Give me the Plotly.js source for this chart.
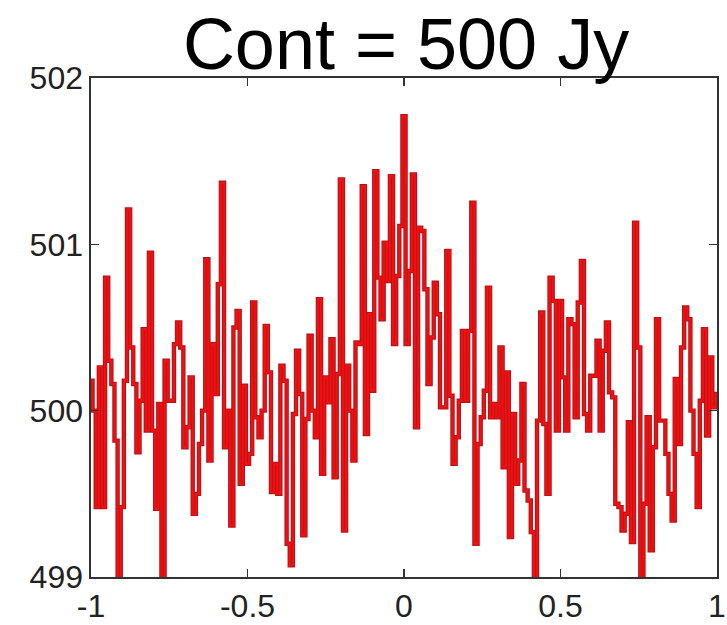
<!DOCTYPE html>
<html>
<head>
<meta charset="utf-8">
<script src="https://cdn.plot.ly/plotly-3.0.1.min.js"></script>
<style>html,body{margin:0;padding:0;background:#fff;}#chart{width:727px;height:625px;}</style>
</head>
<body>
<div id="chart"></div>
<script>
// Spectrum channels: velocity axis from -1 to 1 in steps of 0.01
var channelStart = -1;
var channelStep = 0.01;
// Flux density per channel (Jy)
var fluxJy = [
  500.18,500.00,499.42,500.26,499.42,500.80,500.30,500.16,499.82,498.90,
  499.42,500.18,501.21,500.38,500.16,499.75,500.06,500.49,499.88,500.95,
  499.88,499.41,500.04,498.90,500.30,500.06,500.06,500.40,500.53,500.38,
  499.78,499.90,500.20,499.38,499.50,499.80,500.00,500.91,499.70,500.40,
  500.10,500.76,501.37,499.78,500.00,499.31,500.50,500.60,499.56,500.15,
  499.68,499.74,500.65,499.96,499.84,500.00,500.51,500.23,499.51,499.68,
  499.50,500.27,500.18,499.20,499.07,499.98,500.36,500.10,499.25,499.95,
  500.45,500.00,499.84,500.67,499.62,500.20,500.05,500.43,499.60,500.22,
  501.39,499.28,500.27,500.00,499.70,500.41,500.40,501.35,499.86,500.58,
  500.12,501.44,500.80,500.55,501.01,500.78,501.41,500.40,500.81,501.11,
  501.77,500.40,500.84,501.42,499.90,501.10,501.08,500.73,500.16,500.44,
  500.77,500.58,500.02,500.02,500.96,500.09,499.68,499.84,500.06,500.48,
  500.06,500.48,501.25,499.20,499.80,499.96,500.12,500.74,499.96,500.04,
  499.96,500.38,499.66,500.23,499.24,499.98,499.56,499.70,500.16,499.52,
  499.46,499.27,498.90,499.94,500.59,499.92,499.50,500.80,500.66,499.88,
  500.66,500.20,499.88,500.55,500.52,499.96,500.65,500.90,499.98,499.88,
  500.21,500.21,500.42,499.88,500.36,500.53,500.11,500.08,499.44,499.42,
  499.28,499.38,499.93,499.21,501.13,500.38,498.95,499.44,499.96,499.16,
  499.78,500.55,499.94,499.94,499.74,499.50,499.34,500.19,499.80,500.38,
  500.62,500.55,500.00,499.74,499.42,500.06,500.49,499.85,500.32,500.02,
  500.10
];
var xTicks = [-1, -0.5, 0, 0.5, 1];
var xTickLabels = ['-1', '-0.5', '0', '0.5', '1'];
var yTicks = [499, 500, 501, 502];
var yTickLabels = ['499', '500', '501', '502'];
var titleText = 'Cont = 500 Jy';

var velocity = fluxJy.map(function(_, i){ return +(channelStart + channelStep * i).toFixed(4); });

var traces = [
  {x: velocity, y: fluxJy, type: 'scatter', mode: 'lines',
   line: {shape: 'hvh', color: '#b0161c', width: 4.4}, hoverinfo: 'skip'},
  {x: velocity, y: fluxJy, type: 'scatter', mode: 'lines',
   line: {shape: 'hvh', color: '#f20f0f', width: 2.3}}
];

var axisCommon = {
  showgrid: false, zeroline: false, showline: true, linecolor: '#333', linewidth: 1.6,
  mirror: 'ticks', ticks: 'inside', ticklen: 8, tickwidth: 1.6, tickcolor: '#333',
  ticklabeloverflow: 'allow',
  tickfont: {family: 'Liberation Sans, Arial, sans-serif', size: 32, color: '#222'}
};

var layout = {
  width: 727, height: 625,
  margin: {l: 91, r: 10, t: 78, b: 48},
  paper_bgcolor: '#fff', plot_bgcolor: '#fff',
  showlegend: false,
  title: {text: titleText, x: 0.5585, xanchor: 'center', y: 0.89, yanchor: 'bottom',
          font: {family: 'Liberation Sans, Arial, sans-serif', size: 72, color: '#000'}},
  xaxis: Object.assign({}, axisCommon, {range: [-1, 1], tickvals: xTicks, ticktext: xTickLabels, ticklabelstandoff: 0}),
  yaxis: Object.assign({}, axisCommon, {range: [499, 502], tickvals: yTicks, ticktext: yTickLabels, ticklabelstandoff: 0})
};

Plotly.newPlot('chart', traces, layout, {displayModeBar: false, staticPlot: true});
</script>
</body>
</html>
